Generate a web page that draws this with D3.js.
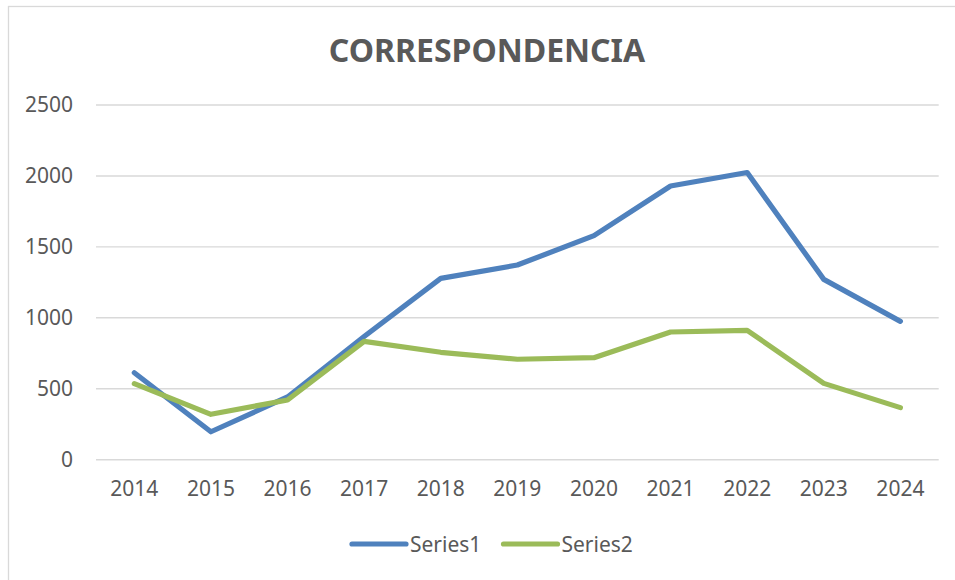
<!DOCTYPE html>
<html><head><meta charset="utf-8">
<script src="https://cdn.jsdelivr.net/npm/d3@7"></script>
<style>body{margin:0;background:#fff}svg{display:block}</style>
</head><body>
<svg id="c" width="955" height="580"></svg>
<script>
const title = "CORRESPONDENCIA";
const categories = ["2014","2015","2016","2017","2018","2019","2020","2021","2022","2023","2024"];
const series1 = [613,197,442,868,1278,1372,1579,1929,2024,1271,975];
const series2 = [536,320,421,834,757,708,719,900,912,538,367];
const seriesNames = ["Series1","Series2"];
const yTicks = [0,500,1000,1500,2000,2500];

const colors = ["#4F81BD","#9BBB59"];
const font = "'Noto Sans', 'Open Sans', sans-serif";
const svg = d3.select("#c");
const W = 955, H = 580;
const plot = {left:96, right:938.7, top:105, bottom:459.7};

// chart area border
svg.append("rect").attr("x",8.5).attr("y",6.5).attr("width",W).attr("height",H)
  .attr("fill","#fff").attr("stroke","#d9d9d9").attr("stroke-width",1.3);

const x = d3.scaleBand().domain(categories).range([plot.left, plot.right]);
const y = d3.scaleLinear().domain([0,2500]).range([plot.bottom, plot.top]);

// gridlines
svg.append("g").selectAll("line").data(yTicks).join("line")
  .attr("x1",plot.left).attr("x2",plot.right)
  .attr("y1",d=>y(d)).attr("y2",d=>y(d))
  .attr("stroke","#d9d9d9").attr("stroke-width",1.4);

// y axis labels
const yAxis = svg.append("g").attr("transform",`translate(${plot.left-23},0)`)
  .call(d3.axisLeft(y).tickValues(yTicks).tickSize(0).tickPadding(0).tickFormat(d3.format("d")));
yAxis.select(".domain").remove();
yAxis.selectAll("text").attr("font-family",font).attr("font-size",21).attr("fill","#595959").attr("dy","0.33em");

// x axis labels
const xAxis = svg.append("g").attr("transform",`translate(0,${plot.bottom})`)
  .call(d3.axisBottom(x).tickSize(0).tickPadding(0));
xAxis.select(".domain").remove();
xAxis.selectAll("text").attr("font-family",font).attr("font-size",21).attr("fill","#595959").attr("dy","1.75em");

// lines
const line = d3.line().x((d,i)=>x(categories[i])+x.bandwidth()/2).y(d=>y(d));
[series1,series2].forEach((s,i)=>{
  svg.append("path").datum(s).attr("d",line).attr("fill","none")
    .attr("stroke",colors[i]).attr("stroke-width",5.2)
    .attr("stroke-linecap","round").attr("stroke-linejoin","round");
});

// title
svg.append("text").attr("x",487).attr("y",62).attr("text-anchor","middle")
  .attr("font-family",font).attr("font-weight","bold").attr("font-size",32)
  .attr("fill","#595959").text(title);

// legend
const legX = [352, 503.5];
const leg = svg.append("g").selectAll("g").data(seriesNames).join("g")
  .attr("transform",(d,i)=>`translate(${legX[i]},544)`);
leg.append("line").attr("x1",0).attr("x2",54).attr("y1",0).attr("y2",0)
  .attr("stroke",(d,i)=>colors[i]).attr("stroke-width",5.2).attr("stroke-linecap","round");
leg.append("text").attr("x",58).attr("y",0).attr("dy","0.36em")
  .attr("font-family",font).attr("font-size",21).attr("fill","#595959").text(d=>d);
</script>
</body></html>
